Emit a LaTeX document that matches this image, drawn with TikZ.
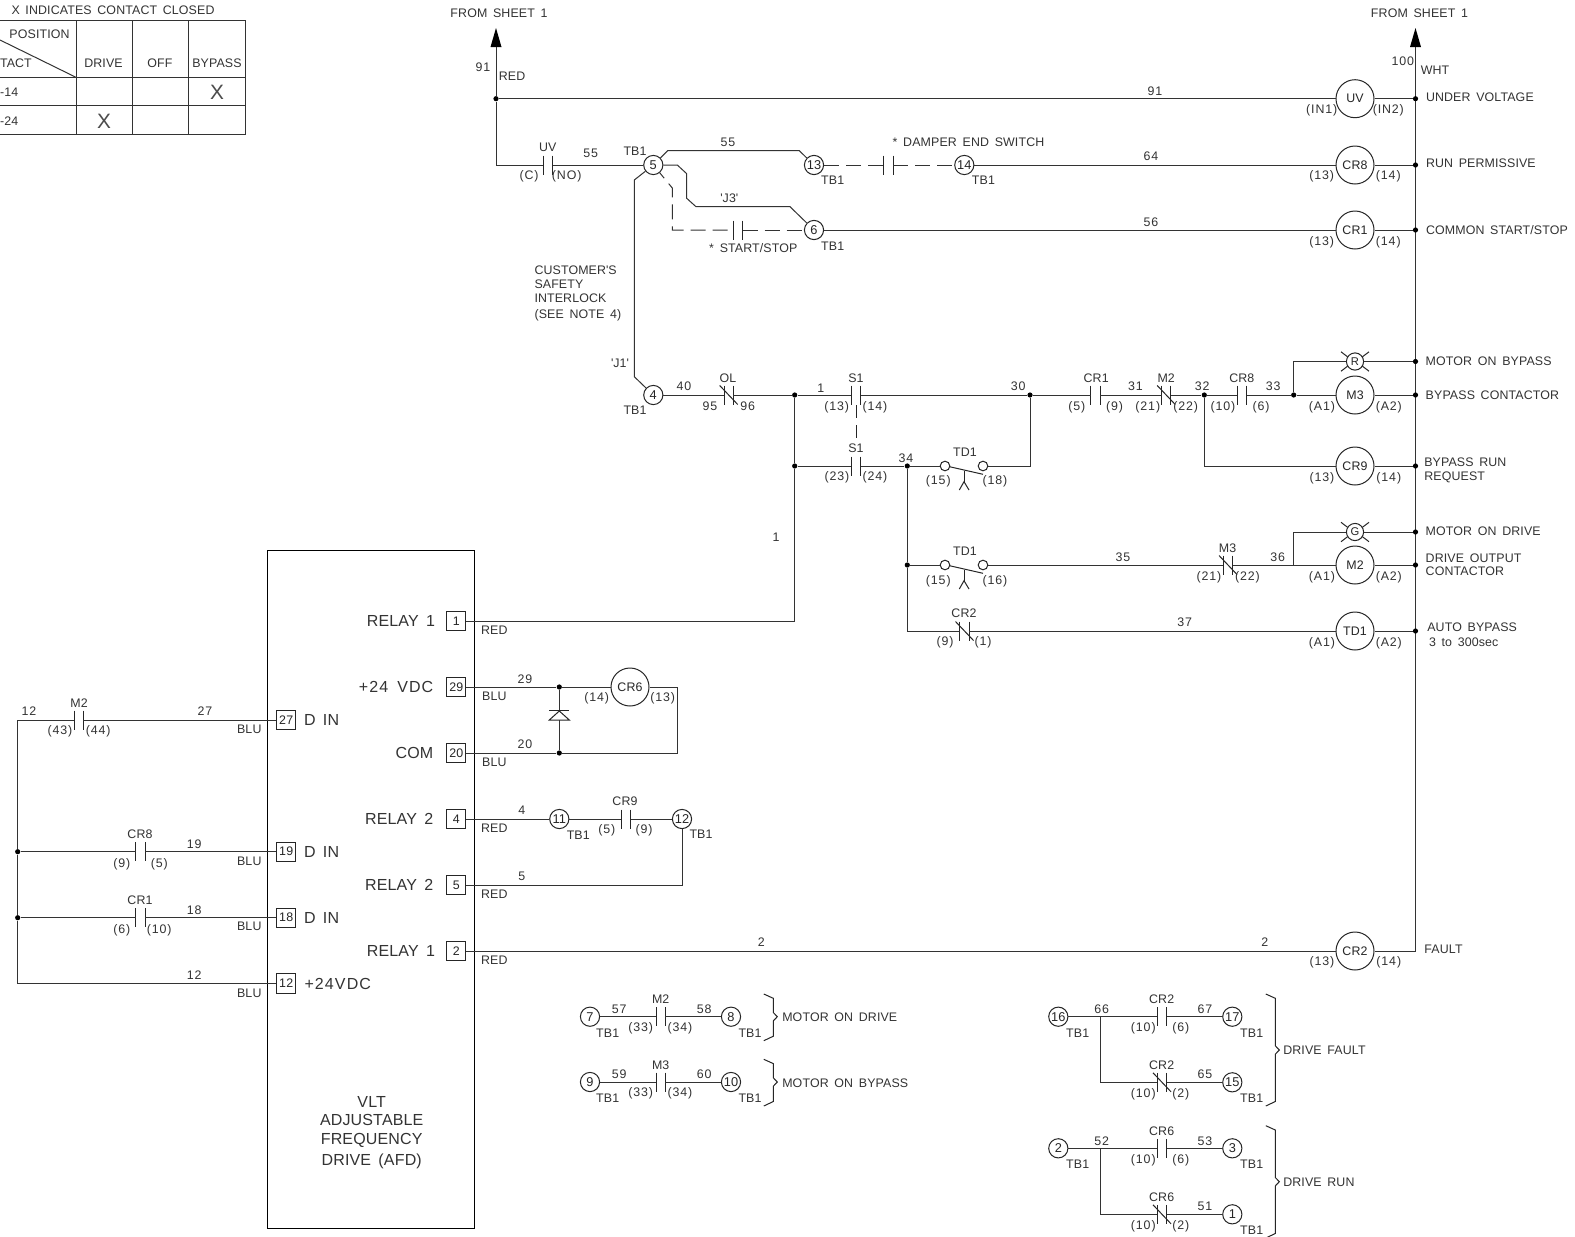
\documentclass[tikz,border=0pt]{standalone}
\usepackage{fontspec}
\setmainfont[WordSpace=1.6,LetterSpace=1]{Liberation Sans}
\newfontfamily\widefont[WordSpace=1.6,LetterSpace=7]{Liberation Sans}
\tikzset{
 x=0.5pt,y=-0.5pt,
 wire/.style={line width=0.5pt,draw=black!80},
 sym/.style={line width=0.5pt,draw=black!85},
 dashwire/.style={wire,dash pattern=on 7.5pt off 3.5pt},
 txt/.style={inner sep=0pt,outer sep=0pt,text=black!80,font=\fontsize{6.2pt}{7pt}\selectfont,text height=4.5pt,text depth=0pt},
 widetxt/.style={txt,font=\widefont\fontsize{6.2pt}{7pt}\selectfont},
 bigtxt/.style={txt,font=\fontsize{8pt}{9pt}\selectfont,text height=5.8pt},
 bigwide/.style={txt,font=\widefont\fontsize{8pt}{9pt}\selectfont,text height=5.8pt},
 xmark/.style={txt,text=black!70,font=\fontsize{10.4pt}{11pt}\selectfont,text height=7.5pt},
 term/.style={circle,draw=black!85,line width=0.5pt,fill=white,inner sep=0pt,minimum size=9.6pt,text=black!85,font=\fontsize{6.4pt}{7pt}\selectfont},
 coil/.style={circle,draw=black!85,line width=0.5pt,fill=white,inner sep=0pt,minimum size=19pt,text=black!85,font=\fontsize{6.2pt}{7pt}\selectfont},
 lamp/.style={circle,draw=black!85,line width=0.5pt,fill=white,inner sep=0pt,minimum size=8.6pt,text=black!85,font=\fontsize{5.6pt}{6pt}\selectfont},
 box/.style={rectangle,draw=black!85,line width=0.5pt,fill=white,inner sep=0pt,minimum size=9.6pt,text=black!85,font=\fontsize{6.2pt}{7pt}\selectfont},
 junc/.style={circle,fill=black,inner sep=0pt,minimum size=2.6pt},
 block/.style={rectangle,draw=black,line width=0.5pt,inner sep=0pt,minimum width=103.7pt,minimum height=339pt},
 smallc/.style={circle,draw=black!85,line width=0.5pt,fill=white,inner sep=0pt,minimum size=4.8pt},
}
\newcounter{lbl}
\newcommand{\labc}[3]{\stepcounter{lbl}\node[txt] (lab\arabic{lbl}) at (#1,#2) {#3};}
\newcommand{\labp}[3]{\stepcounter{lbl}\node[widetxt] (lab\arabic{lbl}) at (#1,#2) {#3};}
\newcommand{\labl}[3]{\stepcounter{lbl}\node[txt,anchor=west] (lab\arabic{lbl}) at (#1,#2) {#3};}
\newcommand{\biglabr}[3]{\stepcounter{lbl}\node[bigtxt,anchor=east] (lab\arabic{lbl}) at (#1,#2) {#3};}
\newcommand{\biglabl}[3]{\stepcounter{lbl}\node[bigtxt,anchor=west] (lab\arabic{lbl}) at (#1,#2) {#3};}
\newcommand{\biglabc}[3]{\stepcounter{lbl}\node[bigtxt] (lab\arabic{lbl}) at (#1,#2) {#3};}
% normally open contact
\newcommand{\cno}[3]{\path (#2,#3) coordinate (#1) +(-4.7,0) coordinate (#1-a) +(4.7,0) coordinate (#1-b);
 \draw[sym] (#1-a)+(0,-9.5) -- +(0,9.5); \draw[sym] (#1-b)+(0,-9.5) -- +(0,9.5);}
% normally closed contact
\newcommand{\cnc}[3]{\cno{#1}{#2}{#3}\draw[sym] (#1)+(-9,-9.5) -- +(9,9.5);}
% time-delay contact
\newcommand{\ctd}[3]{\path (#2,#3) coordinate (#1);
 \node[smallc] (#1-a) at (#2-19,#3) {}; \node[smallc] (#1-b) at (#2+19,#3) {};
 \draw[sym] (#1)+(-14.5,0.7) -- +(19,8.3);
 \draw[sym] (#1)+(0,4.7) -- +(0,15.7); \draw[sym] (#1)+(-4.7,24) -- +(0,15.7) -- +(5,24);}
% lamp
\newcommand{\lampn}[4]{\node[lamp] (#1) at (#2,#3) {#4};
 \draw[sym] (#1)+(-14,-9.7) -- +(-7.4,-4.7); \draw[sym] (#1)+(14,-9.7) -- +(7.4,-4.7);
 \draw[sym] (#1)+(-14,9.7) -- +(-7.4,4.7); \draw[sym] (#1)+(14,9.7) -- +(7.4,4.7);}
% brace
\newcommand{\brc}[4]{\draw[sym] (#1-9.5,#2) -- (#1,#2+4.3) -- (#1,#3-4.2) -- (#1+4,#3) -- (#1,#3+4.2) -- (#1,#4-4.5) -- (#1-9.5,#4);}
\begin{document}
\begin{tikzpicture}
\fill[white] (0,0) rectangle (1575,1237);
\useasboundingbox (0,0) rectangle (1575,1237);

% ---------- selector table ----------
\draw[wire] (0,20.7) -- (245,20.7) -- (245,134) -- (0,134);
\draw[wire] (0,77.3) -- (245,77.3);
\draw[wire] (0,105.7) -- (245,105.7);
\draw[wire] (76,20.7) -- (76,134);
\draw[wire] (132.3,20.7) -- (132.3,134);
\draw[wire] (188.7,20.7) -- (188.7,134);
\draw[wire] (0,40) -- (76,77.3);
\labc{113}{10}{X INDICATES CONTACT CLOSED}
\labc{39.5}{33.5}{POSITION}
\labl{0}{63}{TACT}
\labc{103.5}{63}{DRIVE}
\labc{160}{63}{OFF}
\labc{217}{63}{BYPASS}
\labl{0}{92}{-14}
\labl{0}{121}{-24}
\node[xmark] (xA) at (217,92) {X};
\node[xmark] (xB) at (104,120.5) {X};

% ---------- bus and arrows ----------
\coordinate (aL) at (496,47);
\coordinate (aR) at (1415.5,47);
\fill[black] (aL)+(-5.5,0) -- +(0,-19) -- +(5.5,0) -- cycle;
\fill[black] (aR)+(-5.5,0) -- +(0,-19) -- +(5.5,0) -- cycle;
\coordinate (busend) at (1415.5,951);
\draw[wire] (aR) -- (busend);
\labc{499}{13}{FROM SHEET 1}
\labc{1419.5}{13}{FROM SHEET 1}
\labp{483}{66.5}{91}
\labc{512}{76}{RED}
\labp{1402.7}{61}{100}
\labc{1435}{70}{WHT}

% junctions on bus
\node[junc] (jbUV) at (1415.5,98.7) {};
\node[junc] (jbCR8) at (1415.5,165) {};
\node[junc] (jbCR1) at (1415.5,230) {};
\node[junc] (jbR) at (1415.5,361.5) {};
\node[junc] (jbM3) at (1415.5,395) {};
\node[junc] (jbCR9) at (1415.5,466) {};
\node[junc] (jbG) at (1415.5,532) {};
\node[junc] (jbM2) at (1415.5,565) {};
\node[junc] (jbTD) at (1415.5,631) {};

% coils
\node[coil] (kUV) at (1355,98.7) {UV};
\node[coil] (kCR8) at (1355,165) {CR8};
\node[coil] (kCR1) at (1355,230) {CR1};
\node[coil] (kM3) at (1355,395) {M3};
\node[coil] (kCR9) at (1355,466) {CR9};
\node[coil] (kM2) at (1355,565) {M2};
\node[coil] (kTD1) at (1355,631) {TD1};
\node[coil] (kCR2) at (1355,951) {CR2};
\node[coil] (kCR6) at (630,687) {CR6};
\lampn{lR}{1355}{361.5}{R}
\lampn{lG}{1355}{532}{G}

% terminals
\node[term] (t5) at (653.3,165) {5};
\node[term] (t13) at (814,165) {13};
\node[term] (t14) at (964.3,165) {14};
\node[term] (t6) at (814,230) {6};
\node[term] (t4) at (653.3,395) {4};
\node[term] (t11) at (559.3,819) {11};
\node[term] (t12) at (682,819) {12};
\node[term] (t7) at (590,1016.7) {7};
\node[term] (t8) at (731,1016.7) {8};
\node[term] (t9) at (590,1082) {9};
\node[term] (t10) at (731,1082) {10};
\node[term] (t16) at (1058.3,1016.7) {16};
\node[term] (t17) at (1232.3,1016.7) {17};
\node[term] (t15) at (1232.3,1082.3) {15};
\node[term] (t2) at (1058.3,1148.3) {2};
\node[term] (t3) at (1232.3,1148.3) {3};
\node[term] (t1) at (1232.3,1214.3) {1};

% contacts
\cno{cUV}{548}{165}
\cno{cDS}{888.5}{165}
\cno{cSS}{738}{230}
\cnc{cOL}{728.7}{395}
\cno{cS1a}{856}{395}
\cno{cS1b}{856}{466}
\cno{cCR1a}{1095.5}{395}
\cnc{cM2n}{1166.2}{395}
\cno{cCR8a}{1242}{395}
\ctd{cTDa}{964}{466}
\ctd{cTDb}{964}{565}
\cnc{cCR2n}{964.5}{631}
\cnc{cM3n}{1228}{565}
\cno{cM2b}{78.7}{720}
\cno{cCR8b}{140.3}{851.7}
\cno{cCR1b}{140.3}{917.7}
\cno{cCR9}{625.8}{819}
\cno{cM2c}{660.7}{1016.7}
\cno{cM3c}{660.7}{1082}
\cno{cCR2a}{1162}{1016.7}
\cnc{cCR2b}{1162}{1082.3}
\cno{cCR6a}{1162}{1148.3}
\cnc{cCR6b}{1162}{1214.3}

% junctions
\node[junc] (j91) at (496,98.7) {};
\node[junc] (j1) at (794.7,395) {};
\node[junc] (j1b) at (794.7,466) {};
\node[junc] (j30) at (1030,395) {};
\node[junc] (j32) at (1204.3,395) {};
\node[junc] (j33) at (1293.7,395) {};
\node[junc] (j34) at (907.3,466) {};
\node[junc] (j34b) at (907.3,565) {};
\coordinate (j36) at (1293.7,565);
\node[junc] (j29) at (559.3,687) {};
\node[junc] (j20) at (559.3,753) {};
\coordinate (c12) at (17.7,720);
\node[junc] (jd19) at (17.7,851.7) {};
\node[junc] (jd18) at (17.7,917.7) {};
\coordinate (c66) at (1100.7,1016.7);
\coordinate (c52) at (1100.7,1148.3);

% drive block and its boxes
\node[block] (vlt) at (371,889.5) {};
\node[box] (b1) at (456.3,621) {1};
\node[box] (b29) at (456.3,687) {29};
\node[box] (b20) at (456.3,753) {20};
\node[box] (b4) at (456.3,819) {4};
\node[box] (b5) at (456.3,885) {5};
\node[box] (b2) at (456.3,951) {2};
\node[box] (b27) at (286.2,720) {27};
\node[box] (b19) at (286.2,851.7) {19};
\node[box] (b18) at (286.2,917.7) {18};
\node[box] (b12) at (286.2,983.5) {12};

% ---------- wires ----------
\draw[wire] (aL) -- (j91);
\draw[wire] (j91) -- (kUV);
\draw[wire] (kUV) -- (jbUV);
\draw[wire] (j91) |- (cUV-a);
\draw[wire] (cUV-b) -- (t5);
\draw[wire] (t5) -- (667.7,150.7) -- (799.3,150.7) -- (t13);
\draw[dashwire] (t13) -- (cDS-a);
\draw[dashwire] (cDS-b) -- (t14);
\draw[wire] (t14) -- (kCR8);
\draw[wire] (kCR8) -- (jbCR8);
\draw[wire] (t5) -- (677.3,165) -- (686.7,173.7) -- (686.7,198.3) -- (696,206.7) -- (790,206.7) -- (t6);
\draw[dashwire,dash phase=4pt] (t5) -- (672.3,188) -- (672.3,230) -- (cSS-a);
\draw[dashwire] (cSS-b) -- (t6);
\draw[wire] (t6) -- (kCR1);
\draw[wire] (kCR1) -- (jbCR1);
\draw[wire] (t5) -- (634.3,180) -- (634.3,376.7) -- (t4);
\draw[wire] (t4) -- (cOL-a);
\draw[wire] (cOL-b) -- (j1);
\draw[wire] (j1) -- (cS1a-a);
\draw[wire] (cS1a-b) -- (j30);
\draw[wire] (j30) -- (cCR1a-a);
\draw[wire] (cCR1a-b) -- (cM2n-a);
\draw[wire] (cM2n-b) -- (j32);
\draw[wire] (j32) -- (cCR8a-a);
\draw[wire] (cCR8a-b) -- (j33);
\draw[wire] (j33) -- (kM3);
\draw[wire] (kM3) -- (jbM3);
\draw[wire] (j33) |- (lR);
\draw[wire] (lR) -- (jbR);
\draw[wire] (j32) |- (kCR9);
\draw[wire] (kCR9) -- (jbCR9);
\draw[wire] (j1) -- (j1b);
\draw[wire] (j1b) |- (b1);
\draw[wire] (j1b) -- (cS1b-a);
\draw[wire] (cS1b-b) -- (j34);
\draw[wire] (j34) -- (cTDa-a);
\draw[wire] (cTDa-b) -| (j30);
\draw[wire] (j34) -- (j34b);
\draw[wire] (j34b) -- (cTDb-a);
\draw[wire] (cTDb-b) -- (cM3n-a);
\draw[wire] (cM3n-b) -- (j36);
\draw[wire] (j36) -- (kM2);
\draw[wire] (kM2) -- (jbM2);
\draw[wire] (j36) |- (lG);
\draw[wire] (lG) -- (jbG);
\draw[wire] (j34b) |- (cCR2n-a);
\draw[wire] (cCR2n-b) -- (kTD1);
\draw[wire] (kTD1) -- (jbTD);
\draw[wire] (b2) -- (kCR2);
\draw[wire] (kCR2) -- (busend);
\coordinate (lnkA) at (856,405);
\coordinate (lnkB) at (856,425);
\draw[sym] (lnkA) -- +(0,12.7);
\draw[sym] (lnkB) -- +(0,12.7);
% CR6 loop
\draw[wire] (b29) -- (j29);
\draw[wire] (j29) -- (kCR6);
\draw[wire] (kCR6) -- (677.3,687) -- (677.3,753) -- (j20);
\draw[wire] (j20) -- (b20);
\draw[wire] (j29) -- (j20);
\draw[sym,fill=white] (559.3,711) -- (549.3,720) -- (569.3,720) -- cycle;
\draw[sym] (549.3,710.7) -- (569.3,710.7);
% relay 2
\draw[wire] (b4) -- (t11);
\draw[wire] (t11) -- (cCR9-a);
\draw[wire] (cCR9-b) -- (t12);
\draw[wire] (t12) |- (b5);
% left ladder
\draw[wire] (b27) -- (cM2b-b);
\draw[wire] (cM2b-a) -- (c12);
\draw[wire] (c12) -- (jd19);
\draw[wire] (jd19) -- (jd18);
\draw[wire] (jd18) |- (b12);
\draw[wire] (jd19) -- (cCR8b-a);
\draw[wire] (cCR8b-b) -- (b19);
\draw[wire] (jd18) -- (cCR1b-a);
\draw[wire] (cCR1b-b) -- (b18);
% bottom groups
\draw[wire] (t7) -- (cM2c-a);
\draw[wire] (cM2c-b) -- (t8);
\draw[wire] (t9) -- (cM3c-a);
\draw[wire] (cM3c-b) -- (t10);
\draw[wire] (t16) -- (c66);
\draw[wire] (c66) -- (cCR2a-a);
\draw[wire] (cCR2a-b) -- (t17);
\draw[wire] (c66) |- (cCR2b-a);
\draw[wire] (cCR2b-b) -- (t15);
\draw[wire] (t2) -- (c52);
\draw[wire] (c52) -- (cCR6a-a);
\draw[wire] (cCR6a-b) -- (t3);
\draw[wire] (c52) |- (cCR6b-a);
\draw[wire] (cCR6b-b) -- (t1);
\brc{773.3}{994}{1016.7}{1040.7}
\brc{773.3}{1059.3}{1082}{1106}
\brc{1275.3}{994}{1050}{1106}
\brc{1275.3}{1125.7}{1181.7}{1238}

% ---------- labels : top ----------
\labp{1155}{91}{91}
\labp{1321.7}{109.3}{(IN1)}
\labp{1388.3}{109.3}{(IN2)}
\labl{1426}{97}{UNDER VOLTAGE}
\labp{1321.7}{175}{(13)}
\labp{1388.3}{175}{(14)}
\labl{1426}{163.3}{RUN PERMISSIVE}
\labp{1321.7}{240.5}{(13)}
\labp{1388.3}{240.5}{(14)}
\labl{1426}{229.5}{COMMON START/STOP}
\labc{547.7}{147}{UV}
\labp{529}{175}{(C)}
\labp{566.7}{175}{(NO)}
\labp{590.7}{153}{55}
\labc{635}{151}{TB1}
\labp{728}{142}{55}
\labc{729.3}{198.3}{\textquotesingle J3\textquotesingle}
\labc{832.7}{180}{TB1}
\labc{832.7}{246}{TB1}
\labc{753.3}{247.5}{* START/STOP}
\labc{968.5}{142}{* DAMPER END SWITCH}
\labc{983.4}{179.5}{TB1}
\labp{1151}{156}{64}
\labp{1151}{222}{56}
\labl{534.5}{270}{CUSTOMER\textquotesingle S}
\labl{534.5}{284}{SAFETY}
\labl{534.5}{298}{INTERLOCK}
\labl{534.5}{314}{(SEE NOTE 4)}
\labc{620}{363}{\textquotesingle J1\textquotesingle}
\labc{635}{410}{TB1}

% ---------- labels : rung 395 and below ----------
\labp{684}{386}{40}
\labc{728}{378}{OL}
\labp{710}{405.7}{95}
\labp{747.7}{405.7}{96}
\labc{820.7}{387.5}{1}
\labc{856}{377.5}{S1}
\labp{836.7}{405.5}{(13)}
\labp{875}{405.5}{(14)}
\labc{856}{448}{S1}
\labp{837}{476}{(23)}
\labp{875}{476}{(24)}
\labp{906}{458}{34}
\labp{1018.3}{386}{30}
\labc{965}{452}{TD1}
\labp{938.3}{480}{(15)}
\labp{995}{480}{(18)}
\labc{965}{551}{TD1}
\labp{938.3}{579.5}{(15)}
\labp{995}{579.5}{(16)}
\labc{964}{612.7}{CR2}
\labp{945}{641}{(9)}
\labp{983}{641}{(1)}
\labc{776}{537}{1}
\labc{1096.2}{377.5}{CR1}
\labp{1076.8}{406}{(5)}
\labp{1114.6}{406}{(9)}
\labp{1135.4}{386}{31}
\labc{1166.2}{377.5}{M2}
\labp{1147.8}{406}{(21)}
\labp{1185.6}{406}{(22)}
\labp{1202.3}{386}{32}
\labc{1241.8}{377.5}{CR8}
\labp{1223}{406}{(10)}
\labp{1261}{406}{(6)}
\labp{1273.3}{386}{33}
\labl{1425.7}{361}{MOTOR ON BYPASS}
\labp{1321.9}{406}{(A1)}
\labp{1388.8}{406}{(A2)}
\labl{1425.7}{395.2}{BYPASS CONTACTOR}
\labp{1321.9}{476.5}{(13)}
\labp{1388.8}{476.5}{(14)}
\labl{1424.3}{461.5}{BYPASS RUN}
\labl{1424.3}{475.5}{REQUEST}
\labl{1425.7}{531}{MOTOR ON DRIVE}
\labp{1123}{556.5}{35}
\labp{1277.7}{556.5}{36}
\labc{1227.5}{547.5}{M3}
\labp{1209}{576}{(21)}
\labp{1247.5}{576}{(22)}
\labp{1321.9}{576}{(A1)}
\labp{1388.8}{576}{(A2)}
\labl{1425.7}{557.5}{DRIVE OUTPUT}
\labl{1425.7}{570.5}{CONTACTOR}
\labp{1184.6}{622}{37}
\labp{1321.9}{642}{(A1)}
\labp{1388.8}{642}{(A2)}
\labl{1427.3}{626.5}{AUTO BYPASS}
\labl{1429}{642}{3 to 300sec}
\labl{1424.4}{948.5}{FAULT}
\labp{1321.9}{961}{(13)}
\labp{1388.8}{961}{(14)}
\labc{761.4}{942}{2}
\labc{1264.7}{942}{2}

% ---------- labels : drive block ----------
\biglabr{435}{621}{RELAY 1}
\stepcounter{lbl}\node[bigwide,anchor=east] (lab\arabic{lbl}) at (433.3,687) {+24 VDC};
\biglabr{433.3}{753}{COM}
\biglabr{433.3}{819}{RELAY 2}
\biglabr{433.3}{885}{RELAY 2}
\biglabr{435}{951}{RELAY 1}
\biglabl{304}{720}{D IN}
\biglabl{304}{851.7}{D IN}
\biglabl{304}{917.7}{D IN}
\stepcounter{lbl}\node[bigwide,anchor=west] (lab\arabic{lbl}) at (304.5,984) {+24VDC};
\biglabc{371.7}{1102}{VLT}
\biglabc{371.7}{1120}{ADJUSTABLE}
\biglabc{371.7}{1139}{FREQUENCY}
\biglabc{371.7}{1160}{DRIVE (AFD)}
\labc{494.3}{630}{RED}
\labc{494.3}{696}{BLU}
\labc{494.3}{762}{BLU}
\labc{494.3}{827.5}{RED}
\labc{494.3}{893.5}{RED}
\labc{494.3}{959.5}{RED}
\labp{525}{678.5}{29}
\labp{525}{744}{20}
\labp{596.7}{697}{(14)}
\labp{662.7}{697}{(13)}
\labc{521.7}{810}{4}
\labc{521.7}{876}{5}
\labc{578.3}{834.5}{TB1}
\labc{625}{801}{CR9}
\labp{606.7}{828.5}{(5)}
\labp{644}{828.5}{(9)}
\labc{701}{833.5}{TB1}

% ---------- labels : left ladder ----------
\labp{29}{711}{12}
\labc{79}{702.5}{M2}
\labp{60}{730}{(43)}
\labp{98.3}{730}{(44)}
\labp{205}{711}{27}
\labc{249.3}{729}{BLU}
\labc{140}{834}{CR8}
\labp{121.7}{862.5}{(9)}
\labp{159.3}{862.5}{(5)}
\labp{194.3}{843.5}{19}
\labc{249.3}{860.5}{BLU}
\labc{140}{900}{CR1}
\labp{121.7}{928.5}{(6)}
\labp{159.3}{928.5}{(10)}
\labp{194.3}{909.5}{18}
\labc{249.3}{926}{BLU}
\labp{194.3}{974.5}{12}
\labc{249.3}{992.5}{BLU}

% ---------- labels : bottom groups ----------
\labp{619.3}{1009}{57}
\labc{660.7}{999}{M2}
\labp{640.7}{1027}{(33)}
\labp{680}{1027}{(34)}
\labp{704.3}{1009}{58}
\labc{607.7}{1033}{TB1}
\labc{750}{1033}{TB1}
\labl{782.3}{1017.3}{MOTOR ON DRIVE}
\labp{619.3}{1074.3}{59}
\labc{660.7}{1065}{M3}
\labp{640.7}{1092.3}{(33)}
\labp{680}{1092.3}{(34)}
\labp{704.3}{1074.3}{60}
\labc{607.7}{1098.3}{TB1}
\labc{750}{1098.3}{TB1}
\labl{782.3}{1082.7}{MOTOR ON BYPASS}
\labp{1101.7}{1009}{66}
\labc{1161.7}{999}{CR2}
\labp{1143.3}{1027.3}{(10)}
\labp{1180.7}{1027.3}{(6)}
\labp{1205}{1009}{67}
\labc{1077.7}{1032.5}{TB1}
\labc{1251.7}{1032.5}{TB1}
\labc{1161.7}{1065}{CR2}
\labp{1143.3}{1093.3}{(10)}
\labp{1180.7}{1093.3}{(2)}
\labp{1205}{1074}{65}
\labc{1251.7}{1097.5}{TB1}
\labl{1283.3}{1050}{DRIVE FAULT}
\labp{1101.7}{1140.5}{52}
\labc{1161.7}{1130.7}{CR6}
\labp{1143.3}{1158.5}{(10)}
\labp{1180.7}{1158.5}{(6)}
\labp{1205}{1140.5}{53}
\labc{1077.7}{1163.5}{TB1}
\labc{1251.7}{1163.5}{TB1}
\labc{1161.7}{1196.7}{CR6}
\labp{1143.3}{1225}{(10)}
\labp{1180.7}{1225}{(2)}
\labp{1205}{1205.7}{51}
\labc{1251.7}{1229.5}{TB1}
\labl{1283.3}{1182}{DRIVE RUN}
\end{tikzpicture}
\end{document}
